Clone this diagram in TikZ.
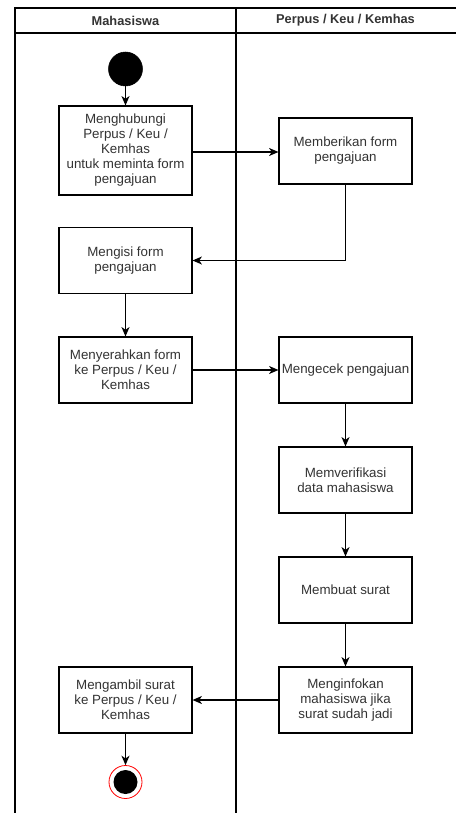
\documentclass[tikz,border=0pt]{standalone}
\usepackage{fontspec}
\setmainfont{Liberation Sans}
\usetikzlibrary{arrows.meta}
\definecolor{txt}{HTML}{333333}
\tikzset{
  act/.style={draw=black, line width=0.85pt, fill=white, align=center, text=txt,
    minimum width=99.75pt, inner sep=1pt, font=\fontsize{10}{11.25}\selectfont},
  actS/.style={act, minimum height=49.5pt},
  actL/.style={act, minimum height=66.75pt},
  flow/.style={line width=0.85pt, -{Stealth[length=7pt,width=6pt,inset=2pt]}},
  lane/.style={line width=0.85pt, draw=black},
  hdr/.style={font=\fontsize{9.6}{11}\selectfont\bfseries, text=txt}
}
\begin{document}
\begin{tikzpicture}[x=0.75pt,y=-0.75pt]
\useasboundingbox (0,0) rectangle (455,813);
% swimlane frame
\draw[lane] (15,813) -- (15,8) -- (456,8);
\draw[lane] (15,33) -- (456,33);
\draw[lane] (236,8) -- (236,813);
\node[hdr] (h1) at (125.5,20.5) {Mahasiswa};
\node[hdr] (h2) at (345.5,20.5) {Perpus / Keu / Kemhas};
% start
\node[circle, fill=black, draw=black, minimum size=25.5pt, inner sep=0pt] (start) at (125.5,69) {};
% activities
\node[actL] (b1) at (125.5,150.5) {Menghubungi\\Perpus / Keu /\\Kemhas\\untuk meminta form\\pengajuan};
\node[actS] (b2) at (345.5,151) {Memberikan form\\pengajuan};
\node[actS] (b3) at (125.5,260.5) {Mengisi form\\pengajuan};
\node[actS] (b4) at (125.5,370) {Menyerahkan form\\ke Perpus / Keu /\\Kemhas};
\node[actS] (b5) at (345.5,370) {Mengecek pengajuan};
\node[actS] (b6) at (345.5,480) {Memverifikasi\\data mahasiswa};
\node[actS] (b7) at (345.5,590) {Membuat surat};
\node[actS] (b8) at (345.5,700) {Menginfokan\\mahasiswa jika\\surat sudah jadi};
\node[actS] (b9) at (125.5,700) {Mengambil surat\\ke Perpus / Keu /\\Kemhas};
% end
\node[circle, draw=red, fill=white, line width=0.6pt, minimum size=24.75pt, inner sep=0pt] (end) at (125.5,782) {};
\node[circle, fill=black, minimum size=18pt, inner sep=0pt] (endin) at (end.center) {};
% flows
\draw[flow] (start) -- (b1);
\draw[flow] (b1.east |- 0,152) -- (b2.west |- 0,152);
\draw[flow] (b2.south) |- (b3.east);
\draw[flow] (b3) -- (b4);
\draw[flow] (b4) -- (b5);
\draw[flow] (b5) -- (b6);
\draw[flow] (b6) -- (b7);
\draw[flow] (b7) -- (b8);
\draw[flow] (b8) -- (b9);
\draw[flow] (b9) -- (end);
\end{tikzpicture}
\end{document}
